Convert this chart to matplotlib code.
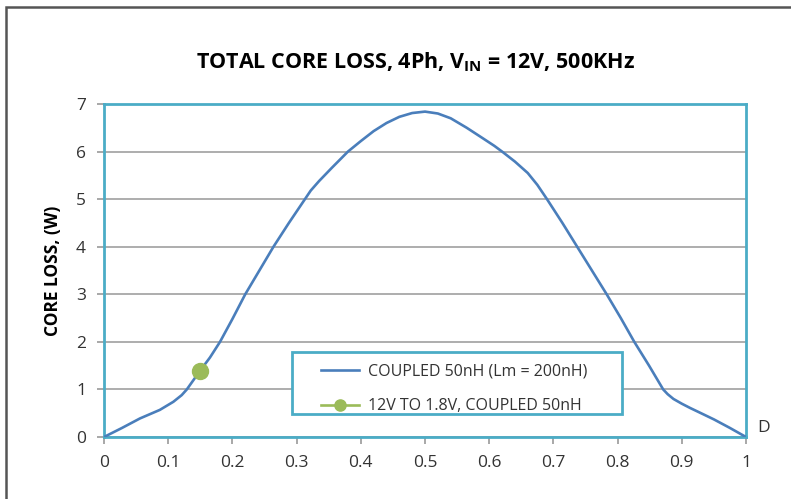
import numpy as np
import matplotlib.pyplot as plt
from matplotlib.patches import Rectangle

plt.rcParams['font.family'] = ['Open Sans', 'DejaVu Sans']
plt.rcParams['mathtext.fontset'] = 'custom'
plt.rcParams['mathtext.rm'] = 'Open Sans'
plt.rcParams['mathtext.bf'] = 'Open Sans:bold'

# duty cycle D vs total core loss (W)
duty = [0, 0.028, 0.056, 0.087, 0.108, 0.121, 0.129, 0.1495, 0.165, 0.1807,
        0.2, 0.22, 0.242, 0.264, 0.288, 0.313, 0.322, 0.335,
        0.355, 0.38, 0.40, 0.42, 0.44, 0.46, 0.48, 0.5, 0.52, 0.54,
        0.565, 0.59, 0.608, 0.622, 0.64, 0.66, 0.675, 0.69, 0.714, 0.737, 0.76,
        0.783, 0.805, 0.826, 0.849, 0.86, 0.871, 0.878, 0.887, 0.9, 0.913, 0.93,
        0.95, 0.975, 1.0]
loss = [0, 0.19, 0.39, 0.57, 0.74, 0.88, 1.0, 1.39, 1.67, 2.0,
        2.48, 3.0, 3.5, 4.0, 4.5, 5.0, 5.18, 5.38,
        5.66, 6.0, 6.22, 6.43, 6.6, 6.73, 6.81, 6.84, 6.8, 6.7,
        6.5, 6.28, 6.12, 5.98, 5.79, 5.55, 5.3, 5.0, 4.5, 4.0, 3.5,
        3.0, 2.5, 2.0, 1.5, 1.25, 1.0, 0.9, 0.8, 0.7, 0.61, 0.5,
        0.37, 0.19, 0]

# measured point 12V -> 1.8V
meas_d = [0.1495]
meas_loss = [1.39]

xticks = [0, 0.1, 0.2, 0.3, 0.4, 0.5, 0.6, 0.7, 0.8, 0.9, 1]
xlabels = ['0', '0.1', '0.2', '0.3', '0.4', '0.5', '0.6', '0.7', '0.8', '0.9', '1']
yticks = [0, 1, 2, 3, 4, 5, 6, 7]

teal = '#4BACC6'
blue = '#4A7EBB'
green = '#9BBB59'

fig = plt.figure(figsize=(7.91, 4.99), dpi=100)
ax = fig.add_axes([104/791, 1-437/499, 642/791, 333/499])

ax.plot(duty, loss, color=blue, lw=1.9, label='COUPLED 50nH (Lm = 200nH)',
        zorder=3, solid_joinstyle='round')
ax.plot(meas_d, meas_loss, color=green, marker='o', ms=11.5, lw=1.9,
        label='12V TO 1.8V, COUPLED 50nH', zorder=4)

ax.set_xlim(0, 1)
ax.set_ylim(0, 7)
ax.set_xticks(xticks)
ax.set_xticklabels(xlabels)
ax.set_yticks(yticks)
ax.yaxis.grid(True, color='#A0A0A0', lw=1.2)
ax.set_axisbelow(True)
ax.tick_params(axis='both', colors='#999999', labelcolor='#333333',
               labelsize=12.5, length=5, width=1.2, pad=8)

for s in ax.spines.values():
    s.set_color(teal)
    s.set_linewidth(2)

ax.set_ylabel('CORE LOSS, (W)', fontsize=12.5, fontweight='bold', labelpad=10)

# legend without its own frame, frame drawn separately
leg = ax.legend(loc='center left', bbox_to_anchor=((321-104)/642, (437-389)/333),
                borderaxespad=0, borderpad=0, fontsize=11.5, frameon=False,
                handlelength=2.4, handletextpad=0.55, labelspacing=1.15,
                markerscale=0.7)
for t in leg.get_texts():
    t.set_color('#333333')
ax.add_patch(Rectangle(((292-104)/642, (437-414)/333), 330/642, 62/333,
                       transform=ax.transAxes, fill=True, facecolor='white',
                       edgecolor=teal, lw=2, zorder=5))
leg.set_zorder(6)

fig.text(0.525, 1-62/499,
         r'TOTAL CORE LOSS, 4Ph, $\mathbf{V_{IN}}$ = 12V, 500KHz',
         ha='center', va='center', fontsize=15.5, fontweight='bold')
fig.text(757/791, 1-428/499, 'D', ha='left', va='center', fontsize=12.5, color='#333333')

# outer frame (left and top edges visible)
fig.patches.append(Rectangle((6/791, -0.1), 1.2, 1-7/499+0.1,
                             transform=fig.transFigure, fill=False,
                             edgecolor='#555555', lw=1.8))

fig.savefig('out.png', dpi=100)
